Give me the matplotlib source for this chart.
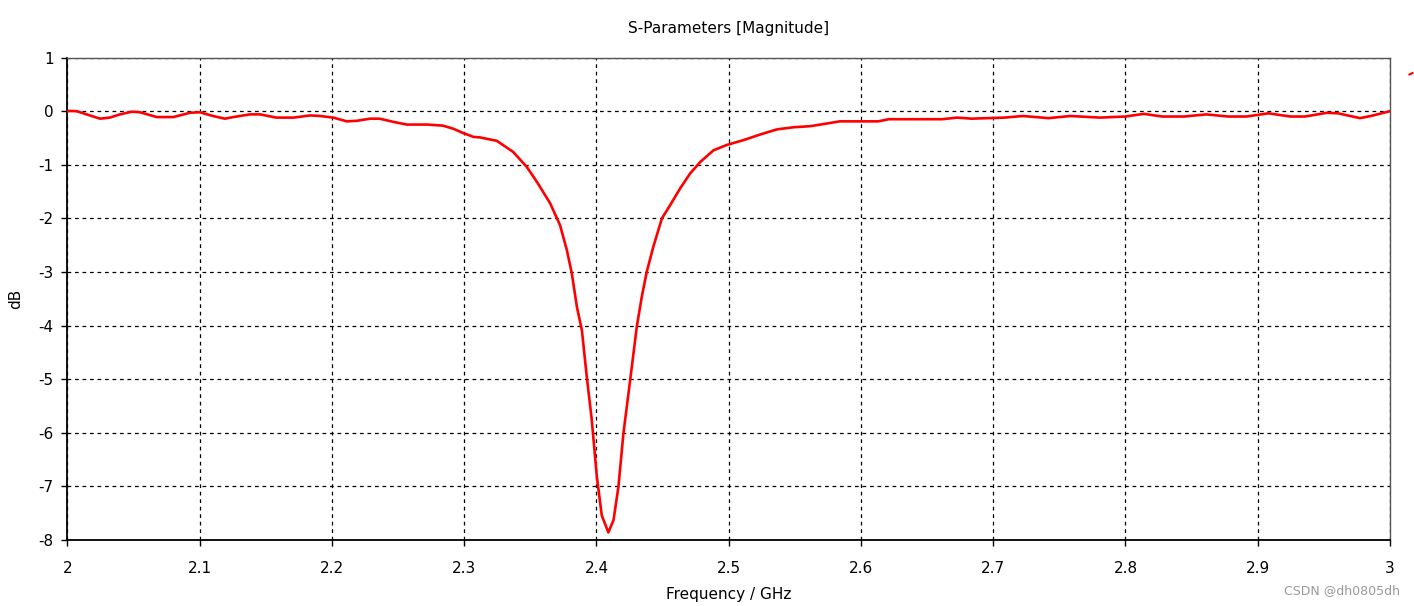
import matplotlib
matplotlib.use("Agg")
import matplotlib.pyplot as plt
from matplotlib.lines import Line2D

freq_ghz = [2.0, 2.0006, 2.007, 2.0145, 2.0246, 2.032, 2.0397, 2.0486, 2.0548, 2.0675, 2.080,
            2.0927, 2.1002, 2.110, 2.119, 2.1254, 2.138, 2.1456, 2.158, 2.171, 2.1834, 2.191,
            2.201, 2.2112, 2.2188, 2.2288, 2.236, 2.2465, 2.2566, 2.272, 2.284, 2.292, 2.2994,
            2.307, 2.312, 2.3247, 2.337, 2.3473, 2.355, 2.365, 2.3725, 2.3776, 2.3814, 2.3852,
            2.389, 2.3927, 2.3965, 2.4003, 2.404, 2.409, 2.4129, 2.4166, 2.4204, 2.4242, 2.428,
            2.4305, 2.4343, 2.438, 2.443, 2.4495, 2.4558, 2.4633, 2.4709, 2.4784, 2.4885, 2.4986,
            2.5112, 2.5238, 2.5365, 2.549, 2.5617, 2.5743, 2.584, 2.613, 2.621, 2.6615, 2.6726,
            2.6837, 2.7086, 2.7224, 2.7418, 2.7584, 2.7806, 2.80, 2.8139, 2.8277, 2.8443, 2.861,
            2.8776, 2.8914, 2.908, 2.9247, 2.9357, 2.9524, 2.9607, 2.9773, 2.9856, 3.0]
s11_db = [0.0, 0.005, 0.0, -0.06, -0.14, -0.12, -0.06, -0.01, -0.02, -0.11, -0.11,
          -0.03, -0.02, -0.09, -0.14, -0.11, -0.06, -0.06, -0.12, -0.12, -0.08, -0.09,
          -0.12, -0.19, -0.18, -0.14, -0.14, -0.20, -0.25, -0.25, -0.27, -0.33, -0.41,
          -0.48, -0.49, -0.554, -0.76, -1.04, -1.32, -1.72, -2.13, -2.59, -3.03, -3.65,
          -4.09, -4.96, -5.77, -6.82, -7.54, -7.86, -7.63, -7.01, -6.01, -5.27, -4.52,
          -4.02, -3.46, -3.0, -2.53, -2.0, -1.75, -1.44, -1.16, -0.95, -0.73, -0.63,
          -0.54, -0.435, -0.34, -0.30, -0.28, -0.23, -0.19, -0.19, -0.15, -0.15, -0.12,
          -0.14, -0.12, -0.09, -0.13, -0.09, -0.12, -0.10, -0.05, -0.10, -0.10, -0.06,
          -0.10, -0.10, -0.04, -0.10, -0.10, -0.03, -0.04, -0.13, -0.09, 0.0]

x_ticks = [2.0, 2.1, 2.2, 2.3, 2.4, 2.5, 2.6, 2.7, 2.8, 2.9, 3.0]
x_tick_labels = ["2", "2.1", "2.2", "2.3", "2.4", "2.5", "2.6", "2.7", "2.8", "2.9", "3"]
y_ticks = [1, 0, -1, -2, -3, -4, -5, -6, -7, -8]

plt.rcParams['font.family'] = ['DejaVu Sans']
fig = plt.figure(figsize=(14.14, 6.06), dpi=100)
ax = fig.add_axes([0.0477, 0.109, 0.9353, 0.796])

ax.plot(freq_ghz, s11_db, color='#ff0000', lw=1.9, zorder=3)
ax.set_xlim(2.0, 3.0)
ax.set_ylim(-8, 1)
ax.set_xticks(x_ticks)
ax.set_xticklabels(x_tick_labels)
ax.set_yticks(y_ticks)
ax.set_yticklabels([str(v) for v in y_ticks])
ax.grid(True, color='black', linestyle=(0, (3, 3)), linewidth=0.9)
ax.tick_params(direction='out', length=4, width=1, labelsize=11, colors='black')
ax.tick_params(axis='x', pad=11)
ax.tick_params(axis='y', pad=6)

for side in ['left', 'bottom']:
    ax.spines[side].set_color('black')
    ax.spines[side].set_linewidth(1.3)
for side in ['top', 'right']:
    ax.spines[side].set_color('#555555')
    ax.spines[side].set_linewidth(1.0)

ax.set_title("S-Parameters [Magnitude]", fontsize=11, pad=18)
ax.set_xlabel("Frequency / GHz", fontsize=11, labelpad=8)
ax.set_ylabel("dB", fontsize=11, labelpad=11)

fig.add_artist(Line2D([1409.5/1414, 1412.5/1414], [1-74.5/606, 1-73/606], color='#ff0000', lw=1.5,
                      transform=fig.transFigure))
fig.text(1400/1414, 1-591/606, "CSDN @dh0805dh", color='#999999', fontsize=9, ha='right', va='center')

fig.savefig("out.png", dpi=100)
